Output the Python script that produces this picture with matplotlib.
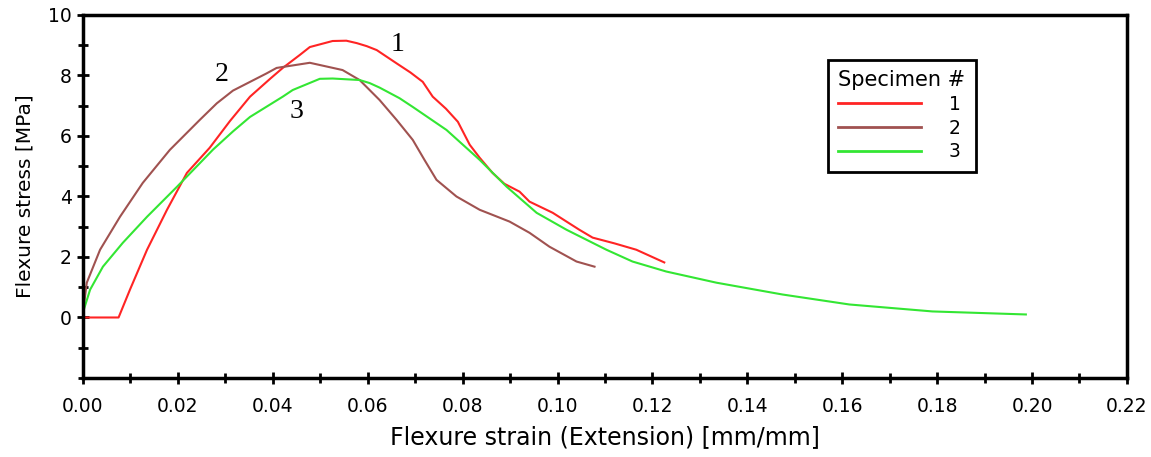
import matplotlib.pyplot as plt
import numpy as np

# specimen 1 (red)
x1 = [0.0, 0.0075, 0.0099, 0.0135, 0.0177, 0.0219, 0.0267, 0.031, 0.0352, 0.0395,
      0.0421, 0.0457, 0.0478, 0.0526, 0.0555, 0.0577, 0.0598, 0.0619, 0.0661, 0.069,
      0.0716, 0.0737, 0.0765, 0.079, 0.0815, 0.0836, 0.0863, 0.0888, 0.092, 0.0941,
      0.099, 0.1046, 0.1074, 0.112, 0.1166, 0.1225]
y1 = [0.0, 0.0, 0.92, 2.24, 3.56, 4.78, 5.61, 6.5, 7.3, 7.9,
      8.25, 8.68, 8.94, 9.14, 9.15, 9.07, 8.97, 8.84, 8.4, 8.1,
      7.79, 7.3, 6.9, 6.47, 5.71, 5.28, 4.78, 4.42, 4.16, 3.83,
      3.46, 2.9, 2.64, 2.45, 2.24, 1.82]

# specimen 2 (brown)
x2 = [0.0, 0.0008, 0.0036, 0.0078, 0.0126, 0.0183, 0.0246, 0.0282, 0.0316, 0.0387,
      0.0408, 0.0478, 0.0547, 0.0583, 0.0625, 0.0661, 0.0695, 0.072, 0.0745, 0.0787,
      0.0836, 0.0899, 0.0941, 0.0983, 0.104, 0.1078]
y2 = [0.17, 1.15, 2.24, 3.33, 4.45, 5.54, 6.53, 7.08, 7.5, 8.07,
      8.25, 8.42, 8.18, 7.85, 7.19, 6.53, 5.87, 5.2, 4.55, 4.0,
      3.56, 3.17, 2.8, 2.34, 1.85, 1.68]

# specimen 3 (green)
x3 = [0.0, 0.0015, 0.0042, 0.0084, 0.0135, 0.0198, 0.0274, 0.0316, 0.0352,
      0.0421, 0.0442, 0.0499, 0.0526, 0.0583, 0.0604, 0.0625, 0.0667, 0.0695, 0.0766,
      0.0836, 0.0893, 0.0956, 0.1019, 0.1103, 0.1158, 0.1229, 0.1335, 0.1474, 0.1615,
      0.179, 0.1987]
y3 = [0.17, 0.92, 1.68, 2.47, 3.33, 4.32, 5.55, 6.15, 6.63,
      7.3, 7.52, 7.89, 7.9, 7.85, 7.75, 7.6, 7.25, 6.96, 6.2,
      5.21, 4.32, 3.46, 2.9, 2.24, 1.85, 1.52, 1.15, 0.76, 0.43,
      0.2, 0.1]

labels = ['1', '2', '3']
colors = ['#ff2424', '#a05250', '#33e633']

# curve numbers written next to the peaks
note_text = ['1', '2', '3']
note_x = [0.0663, 0.0293, 0.045]
note_y = [9.04, 8.02, 6.8]

fig = plt.figure(figsize=(11.51, 4.57), dpi=100)
ax = fig.add_axes([0.0721, 0.1729, 0.9070, 0.7943])

for xs, ys, c, lab in zip([x1, x2, x3], [y1, y2, y3], colors, labels):
    ax.plot(xs, ys, color=c, lw=1.5, label=lab)

for t, tx, ty in zip(note_text, note_x, note_y):
    ax.text(tx, ty, t, fontsize=20, family='Liberation Serif',
            ha='center', va='center')

ax.set_xlim(0, 0.22)
ax.set_ylim(-2, 10)
ax.set_xticks(np.arange(0, 0.2201, 0.02))
ax.set_xticks(np.arange(0, 0.2201, 0.01), minor=True)
ax.set_yticks([0, 2, 4, 6, 8, 10])
ax.set_yticks(np.arange(-2, 10.01, 1), minor=True)
ax.xaxis.set_major_formatter(plt.FormatStrFormatter('%.2f'))
ax.tick_params(which='both', direction='inout', width=2, labelsize=13.5,
               top=False, right=False)
ax.tick_params(which='major', length=8)
ax.tick_params(which='minor', length=7)
ax.tick_params(axis='x', pad=10)
ax.tick_params(axis='y', pad=4)
for s in ax.spines.values():
    s.set_linewidth(2.5)

ax.set_xlabel('Flexure strain (Extension) [mm/mm]', fontsize=17)
ax.set_ylabel('Flexure stress [MPa]', fontsize=14.5)
ax.xaxis.label.set_va('center')
ax.yaxis.label.set_va('center')
ax.xaxis.set_label_coords(0.5, -0.163)
ax.yaxis.set_label_coords(-0.056, 0.5)

leg = ax.legend(title='Specimen #', loc='upper left',
                bbox_to_anchor=(0.7135, 0.876), fontsize=13.5, title_fontsize=15,
                fancybox=False, edgecolor='black', framealpha=1,
                handlelength=4.4, handletextpad=1.5, labelspacing=0.25,
                alignment='left', borderpad=0.55, borderaxespad=0)
leg.get_frame().set_linewidth(2)
for line in leg.get_lines():
    line.set_linewidth(2)

fig.savefig('out.png', dpi=100)
